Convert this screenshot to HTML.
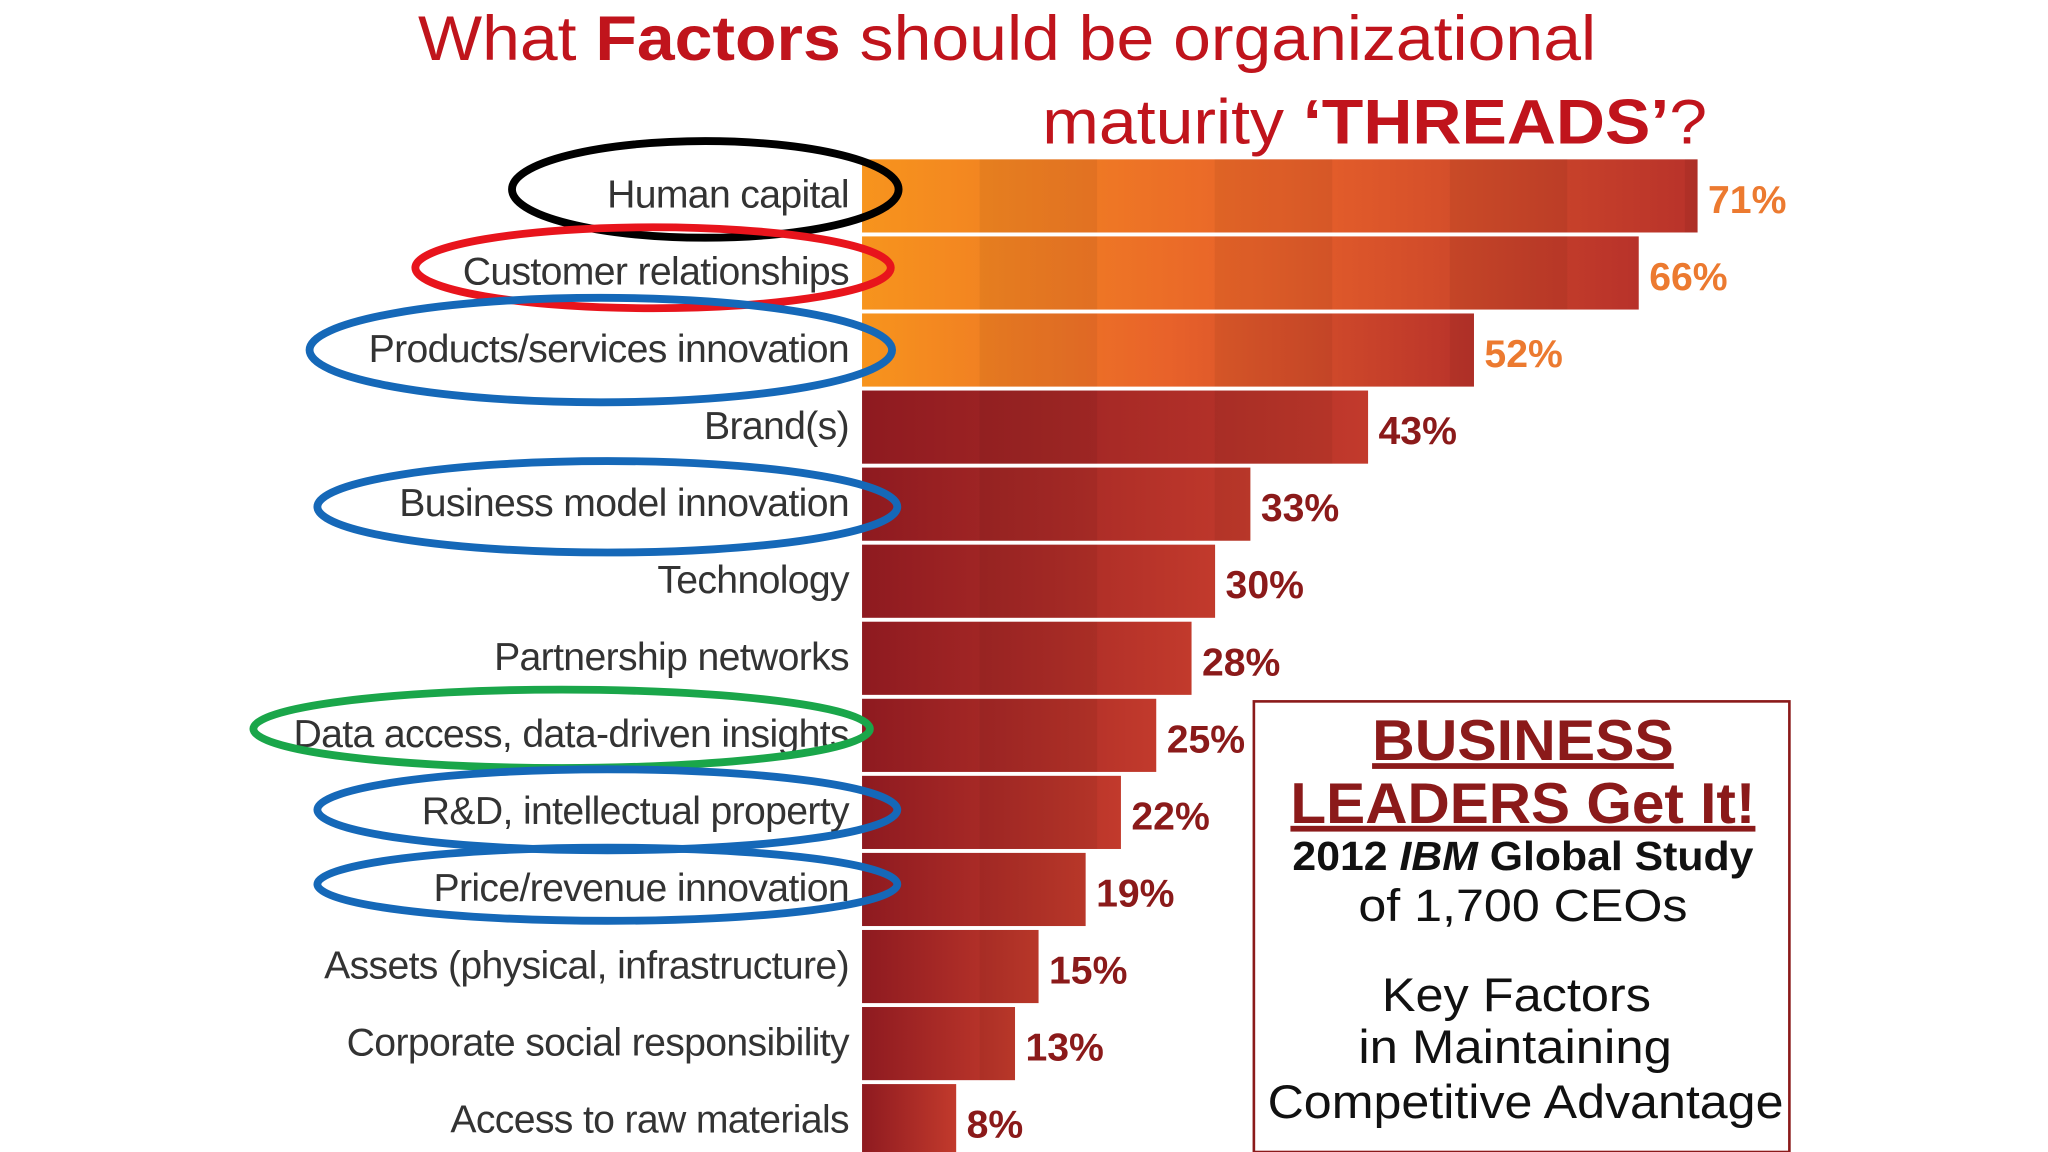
<!DOCTYPE html>
<html><head><meta charset="utf-8"><style>
html,body{margin:0;padding:0;background:#fff;}
svg{display:block;}
text{font-family:"Liberation Sans",sans-serif;}
</style></head><body>
<svg id="chart" width="2048" height="1152" viewBox="0 0 1568 882" xmlns="http://www.w3.org/2000/svg">
<defs>
<linearGradient id="gOrange" x1="0" x2="1" y1="0" y2="0">
<stop offset="0" stop-color="#f7941d"/><stop offset="0.5" stop-color="#e8622a"/><stop offset="1" stop-color="#b8322a"/>
</linearGradient>
<linearGradient id="gRed" x1="0" x2="1" y1="0" y2="0">
<stop offset="0" stop-color="#8e1a20"/><stop offset="1" stop-color="#c23a2c"/>
</linearGradient>
</defs>
<text x="320" y="46" font-size="48" fill="#c0141c" textLength="902" lengthAdjust="spacingAndGlyphs">What <tspan font-weight="bold">Factors</tspan> should be organizational</text>
<text x="798" y="110" font-size="48" fill="#c0141c" textLength="509" lengthAdjust="spacingAndGlyphs">maturity <tspan font-weight="bold">‘THREADS’</tspan>?</text>
<g id="bars"></g>
<g id="ellipses" fill="none" stroke-width="6">
<ellipse cx="540" cy="145" rx="148" ry="37" stroke="#000"/>
<ellipse cx="500" cy="205" rx="182" ry="31" stroke="#e8141c"/>
<ellipse cx="460" cy="268" rx="223" ry="40" stroke="#1568b8"/>
<ellipse cx="465" cy="388" rx="222" ry="35" stroke="#1568b8"/>
<ellipse cx="430" cy="558" rx="236" ry="30" stroke="#1aa64a"/>
<ellipse cx="465" cy="620" rx="222" ry="31" stroke="#1568b8"/>
<ellipse cx="465" cy="677" rx="222" ry="28" stroke="#1568b8"/>
</g>
<g>
<rect x="960" y="537" width="410" height="345" fill="#fff" stroke="#8b1a1a" stroke-width="2"/>
<text x="1166" y="582" font-size="44" font-weight="bold" fill="#8b1a1a" text-anchor="middle" text-decoration="underline" textLength="231" lengthAdjust="spacingAndGlyphs">BUSINESS</text>
<text x="1166" y="630" font-size="44" font-weight="bold" fill="#8b1a1a" text-anchor="middle" text-decoration="underline" textLength="356" lengthAdjust="spacingAndGlyphs">LEADERS Get It!</text>
<text x="1166" y="666" font-size="31" font-weight="bold" fill="#111" text-anchor="middle" textLength="353" lengthAdjust="spacingAndGlyphs">2012 <tspan font-style="italic">IBM</tspan> Global Study</text>
<text x="1166" y="705" font-size="35" fill="#111" text-anchor="middle" textLength="252" lengthAdjust="spacingAndGlyphs">of 1,700 CEOs</text>
<text x="1161" y="774" font-size="36" fill="#111" text-anchor="middle" textLength="206" lengthAdjust="spacingAndGlyphs">Key Factors</text>
<text x="1160" y="814" font-size="36" fill="#111" text-anchor="middle" textLength="240" lengthAdjust="spacingAndGlyphs">in Maintaining</text>
<text x="1168" y="856" font-size="36" fill="#111" text-anchor="middle" textLength="395" lengthAdjust="spacingAndGlyphs">Competitive Advantage</text>
</g>
</svg>
<script>
const categories = ["Human capital","Customer relationships","Products/services innovation","Brand(s)","Business model innovation","Technology","Partnership networks","Data access, data-driven insights","R&D, intellectual property","Price/revenue innovation","Assets (physical, infrastructure)","Corporate social responsibility","Access to raw materials"];
const values = [71,66,52,43,33,30,28,25,22,19,15,13,8];
const x0 = 660, pxPer = 9.01, y0 = 122, rowH = 59, barH = 56;
const xScale = v => x0 + v * pxPer;
const ns = "http://www.w3.org/2000/svg";
const g = document.getElementById('bars');
categories.forEach((c, i) => {
  const y = y0 + i * rowH;
  const w = xScale(values[i]) - x0;
  const orange = i < 3;
  const r = document.createElementNS(ns, 'rect');
  
  
  r.setAttribute('x', x0); r.setAttribute('y', y);
  r.setAttribute('width', w); r.setAttribute('height', barH);
  r.setAttribute('fill', orange ? 'url(#gOrange)' : 'url(#gRed)');
  g.appendChild(r);
  for (let s = x0 + 90; s < x0 + w; s += 180) {
    const st = document.createElementNS(ns, 'rect');
    
    
    st.setAttribute('x', s); st.setAttribute('y', y);
    st.setAttribute('width', Math.min(90, x0 + w - s)); st.setAttribute('height', barH);
    st.setAttribute('fill', 'rgba(0,0,0,0.05)');
    g.appendChild(st);
  }
  const lb = document.createElementNS(ns, 'text');
  
  
  lb.setAttribute('x', 650); lb.setAttribute('y', y + 37);
  lb.setAttribute('font-size', '30'); lb.setAttribute('fill', '#333');
  lb.setAttribute('text-anchor', 'end');
  lb.setAttribute('letter-spacing', '-0.5');
  lb.textContent = c;
  g.appendChild(lb);
  const vl = document.createElementNS(ns, 'text');
  
  
  vl.setAttribute('x', xScale(values[i]) + 8); vl.setAttribute('y', y + 41);
  vl.setAttribute('font-size', '30'); vl.setAttribute('font-weight', 'bold');
  vl.setAttribute('fill', orange ? '#ec7a30' : '#8b1a1a');
  vl.textContent = values[i] + '%';
  g.appendChild(vl);
});
</script>
</body></html>
